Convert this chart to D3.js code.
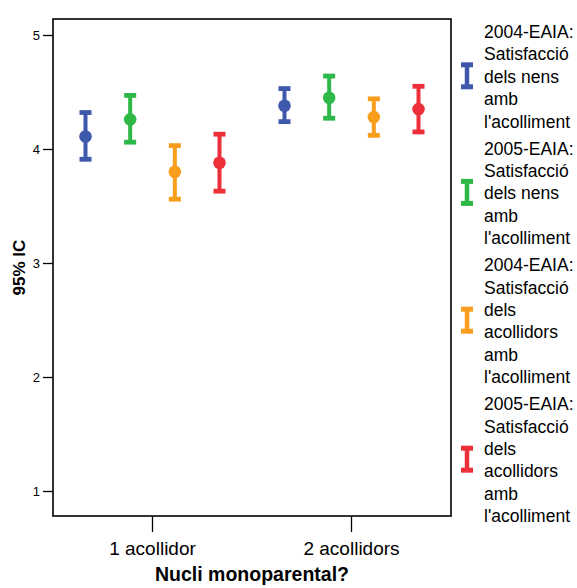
<!DOCTYPE html>
<html><head><meta charset="utf-8">
<script src="https://cdn.jsdelivr.net/npm/d3@7"></script>
<style>body{margin:0;background:#fff}svg{display:block;font-family:"Liberation Sans",Arial,sans-serif}</style>
</head><body><svg id="c" width="577" height="588"></svg>
<script>
const categories = ["1 acollidor", "2 acollidors"];
const seriesNames = [
  ["2004-EAIA:", "Satisfacció", "dels nens", "amb", "l'acolliment"],
  ["2005-EAIA:", "Satisfacció", "dels nens", "amb", "l'acolliment"],
  ["2004-EAIA:", "Satisfacció", "dels", "acollidors", "amb", "l'acolliment"],
  ["2005-EAIA:", "Satisfacció", "dels", "acollidors", "amb", "l'acolliment"]
];
const colors = ["#3E58AC", "#2EB848", "#F99D1C", "#ED2F39"];
// mean, lower, upper per series per category
const means = [[4.11, 4.38], [4.26, 4.45], [3.80, 4.28], [3.88, 4.35]];
const lowers = [[3.91, 4.24], [4.06, 4.27], [3.56, 4.12], [3.63, 4.15]];
const uppers = [[4.32, 4.53], [4.47, 4.64], [4.03, 4.44], [4.13, 4.55]];
const yTicks = [1, 2, 3, 4, 5];

const svg = d3.select("#c");
const L = 53, R = 451, T = 19, B = 516;
const y = d3.scaleLinear().domain([1, 5]).range([491, 35]);
const x = d3.scaleBand().domain(categories).range([L, R]).padding(0);
const bw = x.bandwidth();
const xs = d3.scalePoint().domain(d3.range(4)).range([bw / 2 - 67, bw / 2 + 67]);

// axes
const yAxis = d3.axisLeft(y).tickValues(yTicks).tickSize(10).tickPadding(3).tickFormat(d3.format("d"));
const gy = svg.append("g").attr("transform", `translate(${L},0)`).call(yAxis);
gy.select(".domain").remove();
gy.selectAll("text").style("font-size", "13px").attr("fill", "#000");
gy.selectAll("line").attr("stroke", "#000").attr("stroke-width", 1.3);

const xAxis = d3.axisBottom(x).tickSize(16).tickPadding(10);
const gx = svg.append("g").attr("transform", `translate(0,${B})`).call(xAxis);
gx.select(".domain").remove();
gx.selectAll("text").style("font-size", "19px").attr("fill", "#000");
gx.selectAll("line").attr("stroke", "#000").attr("stroke-width", 1.3);

svg.append("rect").attr("x", L).attr("y", T).attr("width", R - L).attr("height", B - T)
  .attr("fill", "none").attr("stroke", "#000").attr("stroke-width", 1.6);

// error bars
seriesNames.forEach((s, i) => {
  categories.forEach((c, j) => {
    const cx = x(c) + xs(i);
    const g = svg.append("g").attr("fill", colors[i]).attr("stroke", colors[i]);
    g.append("line").attr("x1", cx).attr("x2", cx).attr("y1", y(uppers[i][j])).attr("y2", y(lowers[i][j])).attr("stroke-width", 4);
    [uppers[i][j], lowers[i][j]].forEach(v => {
      g.append("rect").attr("x", cx - 6).attr("y", y(v) - 2.4).attr("width", 12).attr("height", 4.8).attr("stroke", "none");
    });
    g.append("circle").attr("cx", cx).attr("cy", y(means[i][j])).attr("r", 6.3).attr("stroke", "none");
  });
});

// axis titles
svg.append("text").attr("transform", `translate(25,${(T + B) / 2}) rotate(-90)`).attr("text-anchor", "middle")
  .style("font-size", "17px").style("font-weight", "bold").text("95% IC");
svg.append("text").attr("x", (L + R) / 2).attr("y", 581).attr("text-anchor", "middle")
  .style("font-size", "19.5px").style("font-weight", "bold").text("Nucli monoparental?");

// legend
const lineH = 22.4, groupGap = 27;
let ty = 38;
seriesNames.forEach((lines, i) => {
  const g = svg.append("g");
  lines.forEach((t, k) => {
    g.append("text").attr("x", 484).attr("y", ty + k * lineH).style("font-size", "17.5px").text(t);
  });
  const last = ty + (lines.length - 1) * lineH;
  const cy = (ty + last) / 2 - 7;
  const ix = 467;
  g.append("line").attr("x1", ix).attr("x2", ix).attr("y1", cy - 12).attr("y2", cy + 12).attr("stroke", colors[i]).attr("stroke-width", 4.5);
  g.append("rect").attr("x", ix - 6).attr("y", cy - 13.5).attr("width", 12).attr("height", 5).attr("fill", colors[i]);
  g.append("rect").attr("x", ix - 6).attr("y", cy + 8.5).attr("width", 12).attr("height", 5).attr("fill", colors[i]);
  ty = last + groupGap;
});
</script></body></html>
